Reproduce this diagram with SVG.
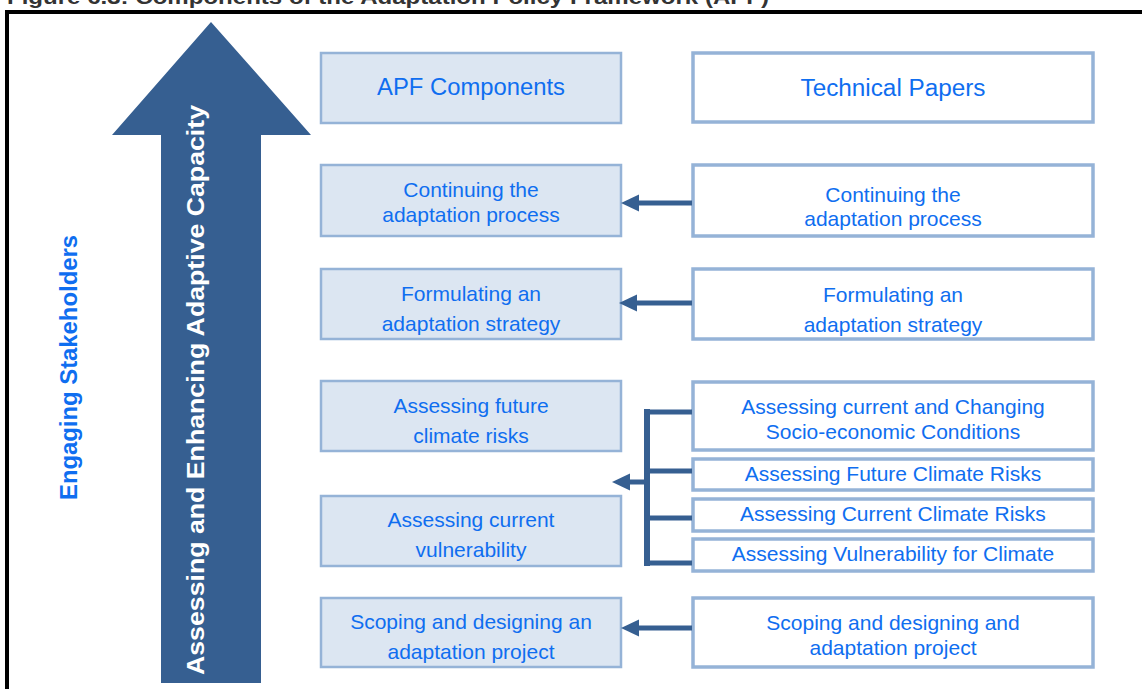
<svg xmlns="http://www.w3.org/2000/svg" width="1142" height="689" viewBox="0 0 1142 689">
<style>
.lbox{fill:#dce6f2;stroke:#95b3d7;stroke-width:2.5}
.rbox{fill:#ffffff;stroke:#95b3d7;stroke-width:3.5}
.t{font-family:"Liberation Sans",Arial,sans-serif;font-size:21px;fill:#0f6ef0;text-anchor:middle}
.h{font-size:23px}
.conn{stroke:#365f91;stroke-width:5;fill:none}
</style>
<defs>
<marker id="ah" markerUnits="userSpaceOnUse" markerWidth="18" markerHeight="18" viewBox="0 0 18 18" refX="1" refY="9" orient="auto">
<polygon points="0,9 18,0.5 18,17.5" fill="#365f91" transform="rotate(180 9 9)"/>
</marker>
</defs>
<rect width="1142" height="689" fill="#ffffff"/>
<text x="7" y="4" font-family="Liberation Sans,Arial,sans-serif" font-weight="bold" font-size="20" fill="#333333" textLength="762" lengthAdjust="spacingAndGlyphs">Figure 6.3: Components of the Adaptation Policy Framework (APF)</text>
<rect x="7" y="12" width="1150" height="700" fill="none" stroke="#000000" stroke-width="4"/>

<g id="engaging">
<text transform="translate(77,367.5) rotate(-90)" x="0" y="0" font-family="Liberation Sans,Arial,sans-serif" font-weight="bold" font-size="23" fill="#0f6ef0" text-anchor="middle" textLength="265" lengthAdjust="spacingAndGlyphs">Engaging Stakeholders</text>
</g>

<g id="capacity-arrow">
<polygon points="211,22 311,135 261,135 261,683 161,683 161,135 112,135" fill="#365f91"/>
<text transform="translate(204,390) rotate(-90)" x="0" y="0" font-family="Liberation Sans,Arial,sans-serif" font-weight="bold" font-size="24" fill="#ffffff" text-anchor="middle" textLength="570" lengthAdjust="spacingAndGlyphs">Assessing and Enhancing Adaptive Capacity</text>
</g>

<g id="apf-components">
<rect class="lbox" x="321" y="53" width="300" height="70"/>
<text class="t h" x="471" y="94.5" textLength="188" lengthAdjust="spacingAndGlyphs">APF Components</text>
</g>
<g id="technical-papers">
<rect class="rbox" x="693" y="53" width="400" height="69"/>
<text class="t h" x="893" y="96" textLength="185" lengthAdjust="spacingAndGlyphs">Technical Papers</text>
</g>

<g id="apf-continuing">
<rect class="lbox" x="321" y="165" width="300" height="71"/>
<text class="t" x="471" y="197">Continuing the</text>
<text class="t" x="471" y="222">adaptation process</text>
</g>
<g id="tp-continuing">
<rect class="rbox" x="693" y="165" width="400" height="71"/>
<text class="t" x="893" y="202">Continuing the</text>
<text class="t" x="893" y="226">adaptation process</text>
</g>

<g id="apf-formulating">
<rect class="lbox" x="321" y="269" width="300" height="70"/>
<text class="t" x="471" y="301">Formulating an</text>
<text class="t" x="471" y="331">adaptation strategy</text>
</g>
<g id="tp-formulating">
<rect class="rbox" x="693" y="269" width="400" height="70"/>
<text class="t" x="893" y="302">Formulating an</text>
<text class="t" x="893" y="332">adaptation strategy</text>
</g>

<g id="apf-future">
<rect class="lbox" x="321" y="381" width="300" height="70"/>
<text class="t" x="471" y="413">Assessing future</text>
<text class="t" x="471" y="443">climate risks</text>
</g>
<g id="apf-vulnerability">
<rect class="lbox" x="321" y="496" width="300" height="70"/>
<text class="t" x="471" y="527">Assessing current</text>
<text class="t" x="471" y="557">vulnerability</text>
</g>

<g id="tp-socio">
<rect class="rbox" x="693" y="382" width="400" height="68"/>
<text class="t" x="893" y="414">Assessing current and Changing</text>
<text class="t" x="893" y="439">Socio-economic Conditions</text>
</g>
<g id="tp-future">
<rect class="rbox" x="693" y="459" width="400" height="31"/>
<text class="t" x="893" y="481">Assessing Future Climate Risks</text>
</g>
<g id="tp-current">
<rect class="rbox" x="693" y="499" width="400" height="32"/>
<text class="t" x="893" y="521">Assessing Current Climate Risks</text>
</g>
<g id="tp-vulnerability">
<rect class="rbox" x="693" y="539" width="400" height="32"/>
<text class="t" x="893" y="561">Assessing Vulnerability for Climate</text>
</g>

<g id="apf-scoping">
<rect class="lbox" x="321" y="598" width="300" height="69"/>
<text class="t" x="471" y="629">Scoping and designing an</text>
<text class="t" x="471" y="659">adaptation project</text>
</g>
<g id="tp-scoping">
<rect class="rbox" x="693" y="598" width="400" height="69"/>
<text class="t" x="893" y="630">Scoping and designing and</text>
<text class="t" x="893" y="655">adaptation project</text>
</g>

<g id="connectors">
<line class="conn" x1="692" y1="203" x2="638" y2="203" marker-end="url(#ah)"/>
<line class="conn" x1="692" y1="303" x2="636" y2="303" marker-end="url(#ah)"/>
<line class="conn" x1="692" y1="628" x2="638" y2="628" marker-end="url(#ah)"/>
<path d="M647,409 V566" stroke="#365f91" stroke-width="6" fill="none"/>
<path d="M644,412 H692 M644,471 H692 M644,518 H692 M644,563 H692" class="conn"/>
<line class="conn" x1="647" y1="482" x2="629" y2="482" marker-end="url(#ah)"/>
</g>
</svg>
